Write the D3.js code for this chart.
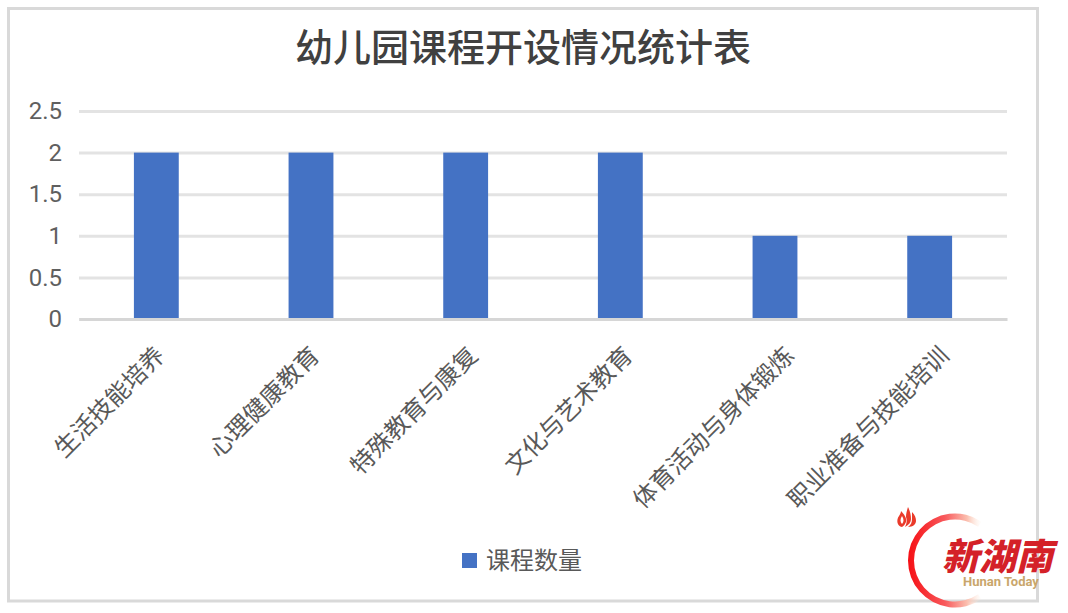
<!DOCTYPE html>
<html>
<head>
<meta charset="utf-8">
<script src="https://cdn.jsdelivr.net/npm/d3@7"></script>
<style>
  html, body { margin: 0; background: #fff; }
  text { font-family: "Noto Sans CJK SC", "Noto Sans", sans-serif; }
  .num { font-family: Roboto, "Noto Sans", sans-serif; }
</style>
</head>
<body>
<svg id="chart" width="1068" height="613"></svg>
<script>
const title = '幼儿园课程开设情况统计表';
const seriesName = '课程数量';
const categories = ['生活技能培养', '心理健康教育', '特殊教育与康复', '文化与艺术教育', '体育活动与身体锻炼', '职业准备与技能培训'];
const values = [2, 2, 2, 2, 1, 1];
const yTicks = [0, 0.5, 1, 1.5, 2, 2.5];

const svg = d3.select('#chart');

// chart frame
svg.append('rect')
  .attr('x', 8.5).attr('y', 8.5)
  .attr('width', 1029).attr('height', 592.5)
  .attr('fill', '#fff')
  .attr('stroke', '#d9d9d9')
  .attr('stroke-width', 3);

svg.append('text')
  .attr('x', 523).attr('y', 61)
  .attr('text-anchor', 'middle')
  .attr('font-size', 38)
  .attr('font-weight', 500)
  .attr('fill', '#404040')
  .text(title);

const x = d3.scaleBand().domain(categories).range([79, 1007]).paddingInner(0.71).paddingOuter(0.355);
const y = d3.scaleLinear().domain([0, 2.5]).range([319, 111]);

// gridlines and value labels
const yAxis = svg.append('g')
  .attr('transform', 'translate(79,0)')
  .call(d3.axisLeft(y).tickValues(yTicks).tickSize(-928).tickPadding(17).tickFormat(d3.format('~g')));
yAxis.select('.domain').remove();
yAxis.selectAll('line').attr('stroke', '#e3e3e3').attr('stroke-width', 3);
yAxis.selectAll('text')
  .attr('class', 'num')
  .attr('font-size', 24)
  .attr('fill', '#5f5f5f');

svg.append('g')
  .selectAll('rect')
  .data(values)
  .join('rect')
  .attr('x', (d, i) => x(categories[i]))
  .attr('y', d => y(d))
  .attr('width', x.bandwidth())
  .attr('height', d => y(0) - y(d))
  .attr('fill', '#4472c4');

// category axis, labels turned 45 degrees; longer labels sit a bit further right
const xAxis = svg.append('g')
  .attr('transform', 'translate(0,319)')
  .call(d3.axisBottom(x).tickSize(0).tickPadding(0));
xAxis.select('.domain').attr('stroke', '#d6d6d6').attr('stroke-width', 3);
xAxis.selectAll('text')
  .attr('font-size', 24)
  .attr('fill', '#595959')
  .attr('text-anchor', 'end')
  .attr('dy', null)
  .attr('y', 0)
  .attr('transform', d => `translate(${10 + (d.length - 6) * 3.6},38) rotate(-45)`);

// legend
svg.append('rect')
  .attr('x', 462).attr('y', 553)
  .attr('width', 15).attr('height', 15)
  .attr('fill', '#4472c4');
svg.append('text')
  .attr('x', 486).attr('y', 569)
  .attr('font-size', 24)
  .attr('fill', '#595959')
  .text(seriesName);

// watermark; gradient coordinates are relative to the ring centre
const defs = svg.append('defs');
const grad = defs.append('linearGradient').attr('id', 'ring')
  .attr('gradientUnits', 'userSpaceOnUse')
  .attr('x1', -47).attr('y1', 0).attr('x2', 27).attr('y2', 0);
grad.append('stop').attr('offset', 0).attr('stop-color', '#f60f14');
grad.append('stop').attr('offset', 0.5).attr('stop-color', '#f8595c');
grad.append('stop').attr('offset', 0.8).attr('stop-color', '#fbc0b0');
grad.append('stop').attr('offset', 1).attr('stop-color', '#fdeee0').attr('stop-opacity', 0);

svg.append('path')
  .attr('transform', 'translate(955,560.5)')
  .attr('d', d3.arc().innerRadius(41).outerRadius(47).startAngle(-Math.PI - 0.6).endAngle(0.6)())
  .attr('fill', 'url(#ring)');

const flames = [
  'M902 527c-5-1-6-7-3-11 1-2 2-3 2-5 3 3 6 7 5 11-1 2-2 4-4 5zm0-3c2-2 2-5 0-8-2 3-2 6 0 8z',
  'M905 527c2-4 2-7 1-10 0-3 1-7 2-10 2 4 3 8 3 12 0 3-2 6-6 8z',
  'M908 527c3-2 4-5 4-8 0-3 0-5 0-7 3 3 4 6 4 9 0 3-3 6-8 6z'
];
svg.append('g')
  .selectAll('path')
  .data(flames)
  .join('path')
  .attr('d', d => d)
  .attr('fill', '#ea3a2a')
  .attr('fill-rule', 'evenodd');

svg.append('text')
  .attr('x', 942).attr('y', 570)
  .attr('font-size', 37)
  .attr('font-weight', 900)
  .attr('font-style', 'italic')
  .attr('fill', '#d42128')
  .style('font-family', '"Noto Sans CJK SC", serif')
  .text('新湖南');
svg.append('text')
  .attr('x', 963).attr('y', 586)
  .attr('class', 'num')
  .attr('font-size', 13)
  .attr('font-weight', 700)
  .attr('fill', '#c9a66b')
  .text('Hunan Today');
</script>
</body>
</html>
